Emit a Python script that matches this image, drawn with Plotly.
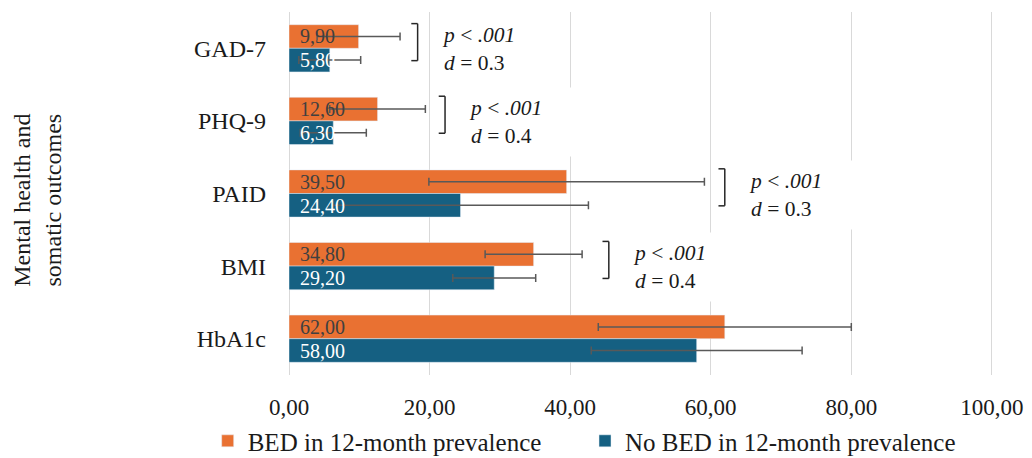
import plotly.graph_objects as go

# ---- data ----
categories = ["GAD-7", "PHQ-9", "PAID", "BMI", "HbA1c"]
bed_values = [9.90, 12.60, 39.50, 34.80, 62.00]
bed_sd = [5.9, 6.8, 19.6, 6.9, 18.0]
nobed_values = [5.80, 6.30, 24.40, 29.20, 58.00]
nobed_sd = [4.4, 4.7, 18.2, 5.9, 15.0]
series_names = ["BED in 12-month prevalence", "No BED in 12-month prevalence"]
test_categories = ["GAD-7", "PHQ-9", "PAID", "BMI"]
p_labels = ["< .001", "< .001", "< .001", "< .001"]
d_values = [0.3, 0.4, 0.3, 0.4]
x_ticks = [0, 20, 40, 60, 80, 100]

# ---- layout helpers (positions, not data) ----
bracket_x = [18.3, 22.2, 62.0, 45.5]

ORANGE = "#E97132"
BLUE = "#156082"
SERIF = "Liberation Serif, Times New Roman, serif"

fig = go.Figure()
fig.add_trace(go.Bar(
    y=categories, x=bed_values, orientation="h", name=series_names[0],
    marker=dict(color=ORANGE), legend="legend",
    error_x=dict(type="data", array=bed_sd, visible=True, color="#595959",
                 thickness=1.5, width=4),
))
fig.add_trace(go.Bar(
    y=categories, x=nobed_values, orientation="h", name=series_names[1],
    marker=dict(color=BLUE), legend="legend2",
    error_x=dict(type="data", array=nobed_sd, visible=True, color="#595959",
                 thickness=1.5, width=4),
))

annotations = []
# data labels at inside base
for cat, v in zip(categories, bed_values):
    annotations.append(dict(
        x=0, y=cat, xref="x", yref="y", text=f"{v:.2f}".replace(".", ","),
        showarrow=False, xanchor="left", yanchor="middle", xshift=9, yshift=12,
        font=dict(family=SERIF, size=20, color="#404040")))
for cat, v in zip(categories, nobed_values):
    annotations.append(dict(
        x=0, y=cat, xref="x", yref="y", text=f"{v:.2f}".replace(".", ","),
        showarrow=False, xanchor="left", yanchor="middle", xshift=9, yshift=-12,
        font=dict(family=SERIF, size=20, color="white")))

shapes = []
for i, (cat, bx, p, d) in enumerate(zip(test_categories, bracket_x, p_labels, d_values)):
    idx = categories.index(cat)
    y0 = idx - 0.34
    y1 = idx + 0.17
    line = dict(color="#262626", width=1.5)
    shapes.append(dict(type="line", xref="x", yref="y", x0=bx, x1=bx, y0=y0, y1=y1, line=line))
    shapes.append(dict(type="line", xref="x", yref="y", x0=bx - 0.9, x1=bx, y0=y0, y1=y0, line=line))
    shapes.append(dict(type="line", xref="x", yref="y", x0=bx - 0.9, x1=bx, y0=y1, y1=y1, line=line))
    annotations.append(dict(
        x=bx, y=cat, xref="x", yref="y",
        text=f"<i>p</i> {p.split(' ')[0]} <i>{p.split(' ')[1]}</i><br><i>d</i> = {d}",
        showarrow=False, xanchor="left", yanchor="middle", xshift=23, yshift=-1,
        align="left", width=118, height=68, bgcolor="white", borderpad=0,
        font=dict(family=SERIF, size=21.5, color="#1a1a1a")))

annotations.append(dict(
    x=-0.356, y=0.48, xref="paper", yref="paper",
    text="Mental health and<br>somatic outcomes", textangle=-90,
    showarrow=False, xanchor="center", yanchor="middle",
    font=dict(family=SERIF, size=24, color="#1a1a1a")))

legend_style = dict(orientation="h", xref="container", yref="paper",
                    xanchor="left", y=-0.182, yanchor="middle",
                    font=dict(family=SERIF, size=25, color="#1a1a1a"),
                    itemwidth=30, bgcolor="rgba(0,0,0,0)")

# page body has an 8px default margin, so the figure is sized to sit inside the window
fig.update_layout(
    width=1024, height=450,
    margin=dict(l=281, r=38, t=4, b=83, autoexpand=False),
    paper_bgcolor="white", plot_bgcolor="white",
    barmode="group", bargap=0.35, bargroupgap=0,
    separators=", ",
    font=dict(family=SERIF, color="#1a1a1a"),
    showlegend=True,
    legend=dict(x=0.195, **legend_style),
    legend2=dict(x=0.5635, **legend_style),
    annotations=annotations,
    shapes=shapes,
)
fig.update_xaxes(
    range=[0, 100.3], tickvals=x_ticks, tickformat=".2f", automargin=False,
    showgrid=True, gridcolor="#d9d9d9", gridwidth=1,
    zeroline=True, zerolinecolor="#d9d9d9", zerolinewidth=1,
    showline=False, ticks="", ticklabelstandoff=16,
    tickfont=dict(family=SERIF, size=23, color="#1a1a1a"),
)
fig.update_yaxes(
    autorange="reversed", showgrid=False, showline=False, zeroline=False,
    ticks="", ticklabelstandoff=22, automargin=False,
    tickfont=dict(family=SERIF, size=24, color="#1a1a1a"),
)

fig.write_html("out.html")
